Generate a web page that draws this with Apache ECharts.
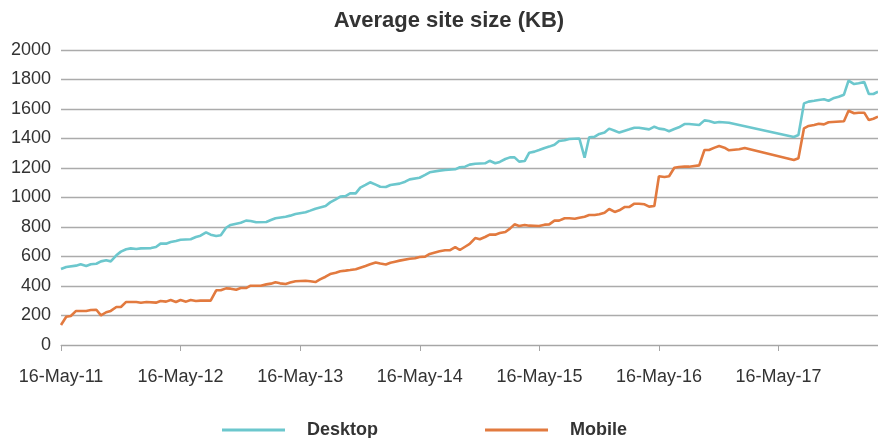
<!DOCTYPE html>
<html>
<head>
<meta charset="utf-8">
<title>Average site size (KB)</title>
<script src="https://cdn.jsdelivr.net/npm/echarts@6/dist/echarts.min.js"></script>
<style>
  html, body { margin: 0; padding: 0; background: #fff; }
  #chart { width: 878px; height: 438px; }
</style>
</head>
<body>
<div id="chart"></div>
<script>
// Average page weight per crawl (KB), desktop vs mobile
const desktopDates = [
  '2011-05-16','2011-06-01','2011-07-01','2011-07-15','2011-08-01','2011-08-15','2011-09-01','2011-09-15',
  '2011-10-01','2011-10-15','2011-11-01','2011-11-15','2011-12-01','2011-12-15','2012-01-01','2012-01-15',
  '2012-02-15','2012-03-01','2012-03-15','2012-04-01','2012-04-15','2012-05-01','2012-05-15','2012-06-15',
  '2012-07-01','2012-07-15','2012-08-01','2012-08-15','2012-09-01','2012-09-15','2012-10-01','2012-10-15',
  '2012-11-15','2012-12-01','2012-12-15','2013-01-01','2013-02-01','2013-02-15','2013-03-01','2013-04-01',
  '2013-04-15','2013-05-01','2013-06-01','2013-06-15','2013-07-01','2013-08-01','2013-08-15','2013-09-01',
  '2013-09-15','2013-10-01','2013-10-15','2013-11-01','2013-11-15','2013-12-01','2013-12-15','2014-01-01',
  '2014-01-15','2014-02-01','2014-02-15','2014-03-15','2014-04-01','2014-04-15','2014-05-15','2014-06-01',
  '2014-06-15','2014-07-15','2014-08-01','2014-09-01','2014-09-15','2014-10-01','2014-10-15','2014-11-01',
  '2014-12-01','2014-12-15','2015-01-01','2015-01-15','2015-02-01','2015-02-15','2015-03-01','2015-03-15',
  '2015-04-01','2015-04-15','2015-05-01','2015-05-15','2015-06-01','2015-06-15','2015-07-01','2015-07-15',
  '2015-08-01','2015-08-15','2015-09-15','2015-10-01','2015-10-15','2015-11-01','2015-11-15','2015-12-01',
  '2015-12-15','2016-01-01','2016-01-15','2016-02-01','2016-02-15','2016-03-01','2016-03-15','2016-04-15',
  '2016-05-01','2016-05-15','2016-06-01','2016-06-15','2016-07-01','2016-07-15','2016-08-01','2016-08-15',
  '2016-09-15','2016-10-01','2016-10-15','2016-11-01','2016-11-15','2016-12-15','2017-01-15','2017-07-01',
  '2017-07-15','2017-08-01','2017-08-15','2017-09-01','2017-09-15','2017-10-01','2017-10-15','2017-11-01',
  '2017-11-15','2017-12-01','2017-12-15','2018-01-01','2018-01-15','2018-02-01','2018-02-15','2018-03-01',
  '2018-03-15'
];
const desktopKB = [
  515, 529, 538, 547, 535, 547, 551, 567,
  574, 567, 608, 633, 649, 655, 651, 655,
  657, 664, 687, 687, 698, 705, 714, 717,
  732, 741, 764, 748, 739, 744, 795, 814,
  829, 843, 841, 832, 834, 847, 859, 870,
  877, 888, 900, 911, 924, 942, 967, 988,
  1006, 1010, 1028, 1028, 1067, 1085, 1103, 1087,
  1073, 1071, 1085, 1094, 1107, 1123, 1134, 1153,
  1171, 1182, 1186, 1191, 1205, 1209, 1223, 1229,
  1232, 1249, 1232, 1241, 1261, 1272, 1272, 1243,
  1247, 1304, 1311, 1322, 1336, 1345, 1358, 1383,
  1388, 1397, 1400, 1270, 1408, 1412, 1431, 1440,
  1467, 1453, 1440, 1453, 1462, 1473, 1473, 1462,
  1480, 1467, 1462, 1449, 1464, 1476, 1498, 1498,
  1492, 1523, 1519, 1507, 1512, 1507, 1492, 1410,
  1424, 1638, 1650, 1656, 1661, 1666, 1656, 1675,
  1683, 1697, 1792, 1769, 1774, 1783, 1702, 1702,
  1717
];

const mobileDates = [
  '2011-05-16','2011-06-01','2011-06-15','2011-07-01','2011-07-15','2011-08-01','2011-08-15','2011-09-01',
  '2011-09-15','2011-10-01','2011-10-15','2011-11-01','2011-11-15','2011-12-01','2011-12-15','2012-01-01',
  '2012-01-15','2012-02-01','2012-03-01','2012-03-15','2012-04-01','2012-04-15','2012-05-01','2012-05-15',
  '2012-06-01','2012-06-15','2012-07-01','2012-07-15','2012-08-01','2012-08-15','2012-09-01','2012-09-15',
  '2012-10-01','2012-10-15','2012-11-01','2012-11-15','2012-12-01','2012-12-15','2013-01-15','2013-02-01',
  '2013-02-15','2013-03-01','2013-03-15','2013-04-01','2013-04-15','2013-05-01','2013-06-01','2013-06-15',
  '2013-07-01','2013-07-15','2013-08-01','2013-08-15','2013-09-01','2013-09-15','2013-10-01','2013-10-15',
  '2013-11-01','2013-11-15','2013-12-01','2013-12-15','2014-01-01','2014-01-15','2014-02-01','2014-02-15',
  '2014-03-01','2014-03-15','2014-04-15','2014-05-01','2014-05-15','2014-06-01','2014-06-15','2014-07-15',
  '2014-08-01','2014-08-15','2014-09-01','2014-09-15','2014-10-01','2014-10-15','2014-11-01','2014-11-15',
  '2014-12-01','2014-12-15','2015-01-01','2015-01-15','2015-02-01','2015-02-15','2015-03-01','2015-03-15',
  '2015-04-01','2015-04-15','2015-05-15','2015-06-01','2015-06-15','2015-07-01','2015-07-15','2015-08-01',
  '2015-08-15','2015-09-01','2015-09-15','2015-10-01','2015-10-15','2015-11-01','2015-11-15','2015-12-01',
  '2015-12-15','2016-01-01','2016-01-15','2016-02-01','2016-02-15','2016-03-01','2016-03-15','2016-04-01',
  '2016-04-15','2016-05-01','2016-05-15','2016-06-01','2016-06-15','2016-07-01','2016-07-15','2016-08-01',
  '2016-08-15','2016-09-15','2016-10-01','2016-10-15','2016-11-01','2016-11-15','2016-12-01','2016-12-15',
  '2017-01-15','2017-02-01','2017-07-01','2017-07-15','2017-08-01','2017-08-15','2017-09-01','2017-09-15',
  '2017-10-01','2017-10-15','2017-12-01','2017-12-15','2018-01-01','2018-01-15','2018-02-01','2018-02-15',
  '2018-03-01','2018-03-15'
];
const mobileKB = [
  136, 192, 197, 231, 231, 231, 237, 239,
  201, 222, 231, 258, 258, 292, 292, 292,
  287, 292, 287, 298, 294, 305, 292, 305,
  294, 305, 298, 301, 301, 301, 371, 371,
  384, 382, 375, 386, 386, 402, 402, 411,
  416, 425, 418, 414, 423, 432, 436, 432,
  427, 445, 463, 481, 490, 500, 504, 508,
  513, 524, 536, 547, 559, 552, 546, 558,
  565, 572, 585, 588, 597, 599, 617, 635,
  642, 642, 664, 644, 666, 685, 725, 717,
  732, 748, 748, 759, 766, 789, 818, 807,
  814, 809, 807, 816, 818, 843, 843, 859,
  859, 856, 863, 870, 881, 881, 886, 897,
  922, 902, 913, 936, 936, 958, 958, 954,
  938, 942, 1144, 1139, 1144, 1202, 1207, 1209,
  1209, 1218, 1322, 1322, 1338, 1349, 1338, 1320,
  1327, 1336, 1254, 1266, 1469, 1485, 1492, 1500,
  1496, 1510, 1517, 1588, 1571, 1575, 1575, 1525,
  1534, 1548
];

const yTicks = [0, 200, 400, 600, 800, 1000, 1200, 1400, 1600, 1800, 2000];
const tickDayLabel = '16-May-';

// x positions are measured in days after the first crawl (16 May 2011)
const START = Date.UTC(2011, 4, 16);
const DAY = 86400000;
const YEAR_DAYS = 365.25;
function dayOffset(s) {
  const p = s.split('-').map(Number);
  return (Date.UTC(p[0], p[1] - 1, p[2]) - START) / DAY;
}
function pairs(dates, vals) {
  return dates.map((d, i) => [dayOffset(d), vals[i]]);
}
const xMax = dayOffset('2018-03-15');

const FONT = '"Liberation Sans", Arial, sans-serif';
const chart = echarts.init(document.getElementById('chart'), null, { renderer: 'canvas' });

chart.setOption({
  animation: false,
  backgroundColor: '#ffffff',
  title: {
    text: 'Average site size (KB)',
    left: 449,
    top: 10,
    padding: 0,
    textAlign: 'center',
    textStyle: { fontFamily: FONT, fontSize: 22, fontWeight: 'bold', color: '#333333' }
  },
  legend: {
    left: 222,
    top: 421,
    padding: 0,
    itemWidth: 63,
    itemHeight: 3,
    itemGap: 107,
    icon: 'rect',
    textStyle: {
      fontFamily: FONT, fontSize: 18, fontWeight: 'bold', color: '#333333',
      padding: [0, 0, 0, 17]
    },
    data: ['Desktop', 'Mobile']
  },
  grid: { left: 61, right: 0, top: 50, bottom: 93, containLabel: false },
  xAxis: {
    type: 'value',
    min: 0,
    max: xMax,
    interval: YEAR_DAYS,
    axisLine: { show: true, lineStyle: { color: '#A6A6A6', width: 1 } },
    axisTick: { show: true, length: 6, lineStyle: { color: '#A6A6A6' } },
    splitLine: { show: false },
    axisLabel: {
      showMaxLabel: false,
      margin: 23,
      fontFamily: FONT, fontSize: 18, color: '#333333',
      formatter: function (v) {
        const n = v / YEAR_DAYS;
        if (Math.abs(n - Math.round(n)) > 0.01) return '';
        const yy = 11 + Math.round(n);
        return tickDayLabel + (yy < 10 ? '0' + yy : yy);
      }
    }
  },
  yAxis: {
    type: 'value',
    min: yTicks[0],
    max: yTicks[yTicks.length - 1],
    interval: yTicks[1] - yTicks[0],
    axisLine: { show: false },
    axisTick: { show: false },
    splitLine: { show: true, lineStyle: { color: '#ABABAB', width: 1.3 } },
    axisLabel: {
      margin: 10, fontFamily: FONT, fontSize: 18, color: '#333333',
      formatter: function (v) { return String(v); }
    }
  },
  series: [
    {
      name: 'Desktop',
      type: 'line',
      data: pairs(desktopDates, desktopKB),
      showSymbol: false,
      symbol: 'none',
      color: '#6CC7CD',
      lineStyle: { width: 2.6, color: '#6CC7CD' },
      z: 3
    },
    {
      name: 'Mobile',
      type: 'line',
      data: pairs(mobileDates, mobileKB),
      showSymbol: false,
      symbol: 'none',
      color: '#E27A3F',
      lineStyle: { width: 2.6, color: '#E27A3F' },
      z: 3
    }
  ]
});
</script>
</body>
</html>
